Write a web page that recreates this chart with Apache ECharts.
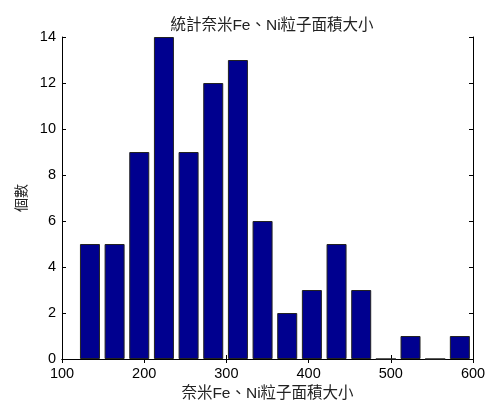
<!DOCTYPE html>
<html><head><meta charset="utf-8">
<script src="https://cdn.jsdelivr.net/npm/echarts@6/dist/echarts.min.js"></script>
<style>html,body{margin:0;padding:0;background:#fff}#c{width:493px;height:401px}</style>
</head><body><div id="c"></div>
<script>
var binCenters = [134, 164, 194, 224, 254, 284, 314, 344, 374, 404, 434, 464, 494, 524, 554, 584];
var counts = [5, 5, 9, 14, 9, 12, 13, 6, 2, 3, 5, 3, 0, 1, 0, 1];
var xTicks = [100, 200, 300, 400, 500, 600];
var yTicks = [0, 2, 4, 6, 8, 10, 12, 14];
var titleText = '統計奈米Fe、Ni粒子面積大小';
var xName = '奈米Fe、Ni粒子面積大小';
var yName = '個數';

var FONT = "'Liberation Sans', 'Noto Sans CJK TC', sans-serif";
var data = binCenters.map(function (c, i) { return [c, counts[i]]; });
var axisCommon = {
  axisLine: { show: true, lineStyle: { color: '#000', width: 1 } },
  axisTick: { show: true, inside: true, length: 4, lineStyle: { color: '#000' } },
  splitLine: { show: false }
};
var chart = echarts.init(document.getElementById('c'));
chart.setOption({
  animation: false,
  backgroundColor: '#fff',
  title: { text: titleText, left: 267, textAlign: 'center', top: 13,
    textStyle: { fontFamily: FONT, fontSize: 15.5, fontWeight: 'normal', color: '#222' } },
  grid: { left: 62, right: 20, top: 37, bottom: 42, containLabel: false, outerBoundsMode: 'none' },
  xAxis: [
    Object.assign({ type: 'value', position: 'bottom', min: xTicks[0], max: xTicks[xTicks.length - 1], interval: 100,
      name: xName, nameLocation: 'middle', nameGap: 26,
      nameTextStyle: { fontFamily: FONT, fontSize: 15.5, color: '#222' },
      axisLabel: { fontFamily: FONT, fontSize: 14.5, color: '#000', margin: 8 } }, axisCommon),
    Object.assign({ type: 'value', position: 'top', min: xTicks[0], max: xTicks[xTicks.length - 1], interval: 100,
      axisLabel: { show: false } }, axisCommon)
  ],
  yAxis: [
    Object.assign({ type: 'value', position: 'left', min: yTicks[0], max: yTicks[yTicks.length - 1], interval: 2,
      name: yName, nameLocation: 'middle', nameGap: 27, nameRotate: 90,
      nameTextStyle: { fontFamily: FONT, fontSize: 14, color: '#222' },
      axisLabel: { fontFamily: FONT, fontSize: 14.5, color: '#000', margin: 6 } }, axisCommon),
    Object.assign({ type: 'value', position: 'right', min: yTicks[0], max: yTicks[yTicks.length - 1], interval: 2,
      axisLabel: { show: false } }, axisCommon)
  ],
  series: [{
    type: 'bar', xAxisIndex: 0, yAxisIndex: 0,
    data: data, barWidth: 20,
    itemStyle: { color: '#00008F', borderColor: '#222', borderWidth: 1 }
  }]
});
</script></body></html>
